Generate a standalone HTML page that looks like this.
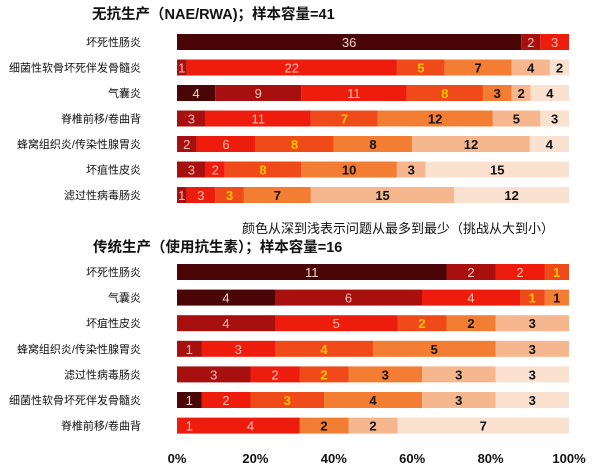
<!DOCTYPE html>
<html><head><meta charset="utf-8"><style>
body{margin:0;background:#fff;font-family:"Liberation Sans","Noto Sans CJK SC",sans-serif}
svg text{font-family:"Liberation Sans","Noto Sans CJK SC",sans-serif}
</style></head><body>
<svg id="c" width="600" height="470">
<text x="92" y="19" font-size="14.5" font-weight="bold" fill="#111">无抗生产（NAE/RWA)；样本容量=41</text>
<text x="398" y="233" font-size="13" text-anchor="middle" fill="#111">颜色从深到浅表示问题从最多到最少（挑战从大到小）</text>
<text x="93" y="252" font-size="14.5" font-weight="bold" fill="#111">传统生产（使用抗生素）；样本容量=16</text>
</svg>
<script>
const topCats=["坏死性肠炎","细菌性软骨坏死伴发骨髓炎","气囊炎","脊椎前移/卷曲背","蜂窝组织炎/传染性腺胃炎","坏疽性皮炎","滤过性病毒肠炎"];
const topVals=[[36,2,3],[1,22,5,7,4,2],[4,9,11,8,3,2,4],[3,11,7,12,5,3],[2,6,8,8,12,4],[3,2,8,10,3,15],[1,3,3,7,15,12]];
const topLvls=[[1,2,3],[2,3,4,5,6,7],[1,2,3,4,5,6,7],[2,3,4,5,6,7],[2,3,4,5,6,7],[2,3,4,5,6,7],[2,3,4,5,6,7]];
const botCats=["坏死性肠炎","气囊炎","坏疽性皮炎","蜂窝组织炎/传染性腺胃炎","滤过性病毒肠炎","细菌性软骨坏死伴发骨髓炎","脊椎前移/卷曲背"];
const botVals=[[11,2,2,1],[4,6,4,1,1],[4,5,2,2,3],[1,3,4,5,3],[3,2,2,3,3,3],[1,2,3,4,3,3],[1,4,2,2,7]];
const botLvls=[[1,2,3,4],[1,2,3,4,5],[2,3,4,5,6],[2,3,4,5,6],[2,3,4,5,6,7],[1,3,4,5,6,7],[3,3,5,6,7]];
const ticks=["0%","20%","40%","60%","80%","100%"];
const colors=["","#4a0606","#a80f0f","#ee1c0c","#f14a1a","#f37d32","#f6b68e","#fbe2d0"];
const tcol=["","#f3d0c0","#f3c0b0","#f8c0b0","#f5c400","#111","#111","#111"];
const svg=document.getElementById('c');const NS="http://www.w3.org/2000/svg";
const x0=177,x1=569;const xs=p=>x0+(x1-x0)*p;
function mk(t,a){const e=document.createElementNS(NS,t);for(const k in a)e.setAttribute(k,a[k]);svg.appendChild(e);return e;}
function panel(cats,vals,lvls,y0,step,pname){
 cats.forEach((c,i)=>{
  const cy=y0+i*step;
  const l=mk('text',{x:141,y:cy+4,'font-size':11,'text-anchor':'end',fill:'#111'});l.textContent=c;
  
  
  const tot=vals[i].reduce((a,b)=>a+b,0);let acc=0;
  vals[i].forEach((v,j)=>{
   const lv=lvls[i][j];const xa=xs(acc/tot),xb=xs((acc+v)/tot);acc+=v;
   const r=mk('rect',{x:xa,y:cy-8,width:xb-xa,height:16,fill:colors[lv]});
   
   
   const t=mk('text',{x:(xa+xb)/2,y:cy+5,'font-size':13,'text-anchor':'middle',fill:tcol[lv],'font-weight':lv>=4?'bold':'normal'});t.textContent=v;
   
   
  });
 });
}
panel(topCats,topVals,topLvls,42,25.5,'top');
panel(botCats,botVals,botLvls,272,25.6,'bottom');
ticks.forEach((t,i)=>{const e=mk('text',{x:xs(i/5),y:463,'font-size':13,'font-weight':'bold','text-anchor':'middle',fill:'#111'});e.textContent=t;
 
 });
</script>
</body></html>
